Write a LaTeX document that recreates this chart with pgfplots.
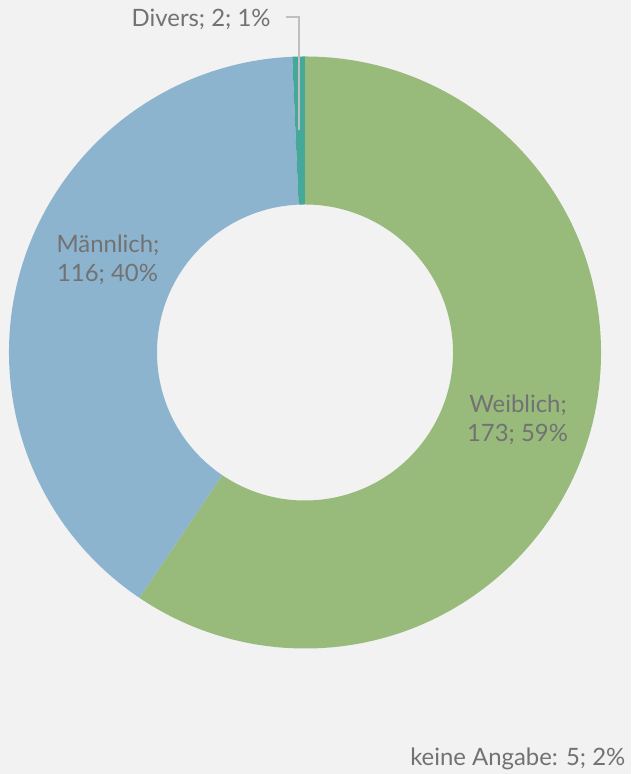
\documentclass[border=0pt]{standalone}
\usepackage{pgfplots}
\usepackage{pgfplotstable}
\pgfplotsset{compat=1.18}
\usepackage{fontspec}
\setmainfont{Lato}
\definecolor{bgc}{HTML}{F2F2F2}
\definecolor{colW}{HTML}{98BB7C}
\definecolor{colM}{HTML}{8DB4CF}
\definecolor{colD}{HTML}{45A89A}
\definecolor{txt}{HTML}{727272}
\definecolor{lead}{HTML}{BFBFBF}
\pgfplotstableread{
label value
Weiblich 173
Maennlich 116
Divers 2
}\donut
\begin{document}
\begin{tikzpicture}
\pgfplotstablegetelem{0}{value}\of\donut \let\vW\pgfplotsretval
\pgfplotstablegetelem{1}{value}\of\donut \let\vM\pgfplotsretval
\pgfplotstablegetelem{2}{value}\of\donut \let\vD\pgfplotsretval
\pgfmathsetmacro\tot{\vW+\vM+\vD}
\pgfmathsetmacro\aW{90-360*(\vW/\tot)}
\pgfmathsetmacro\aM{\aW-360*(\vM/\tot)}
\pgfmathsetmacro\aD{\aM-360*(\vD/\tot)}
\begin{axis}[scale only axis, width=6.31cm, height=7.74cm,
  xmin=0, xmax=631, ymin=0, ymax=774, hide axis, clip=false]
\fill[bgc] (axis cs:0,0) rectangle (axis cs:631,774);
\fill[colW] (axis cs:305,421.5) ++(90:2.96cm) arc[start angle=90,end angle=\aW,radius=2.96cm]
  -- ++(\aW:-1.48cm) arc[start angle=\aW,end angle=90,radius=1.48cm] -- cycle;
\fill[colM] (axis cs:305,421.5) ++(\aW:2.96cm) arc[start angle=\aW,end angle=\aM,radius=2.96cm]
  -- ++(\aM:-1.48cm) arc[start angle=\aM,end angle=\aW,radius=1.48cm] -- cycle;
\fill[colD] (axis cs:305,421.5) ++(\aM:2.96cm) arc[start angle=\aM,end angle=\aD,radius=2.96cm]
  -- ++(\aD:-1.48cm) arc[start angle=\aD,end angle=\aM,radius=1.48cm] -- cycle;
\draw[lead, line width=0.45pt] (axis cs:286,757) -- (axis cs:299,757) -- (axis cs:299,644);
\begin{scope}[every node/.style={font=\fontsize{6.8pt}{8.2pt}\selectfont, text=txt, inner sep=0pt}]
\node[anchor=base] at (axis cs:518,361) {Weiblich;};
\node[anchor=base] at (axis cs:517.5,332) {173; 59\%};
\node[anchor=base] at (axis cs:108,521) {Männlich;};
\node[anchor=base] at (axis cs:107.5,492) {116; 40\%};
\node[anchor=base west] at (axis cs:131,747) {Divers; 2; 1\%};
\node[anchor=base east] at (axis cs:626,8) {keine Angabe: 5; 2\%};
\end{scope}
\end{axis}
\pgfresetboundingbox
\useasboundingbox (current axis.south west) rectangle (current axis.north east);
\end{tikzpicture}
\end{document}
